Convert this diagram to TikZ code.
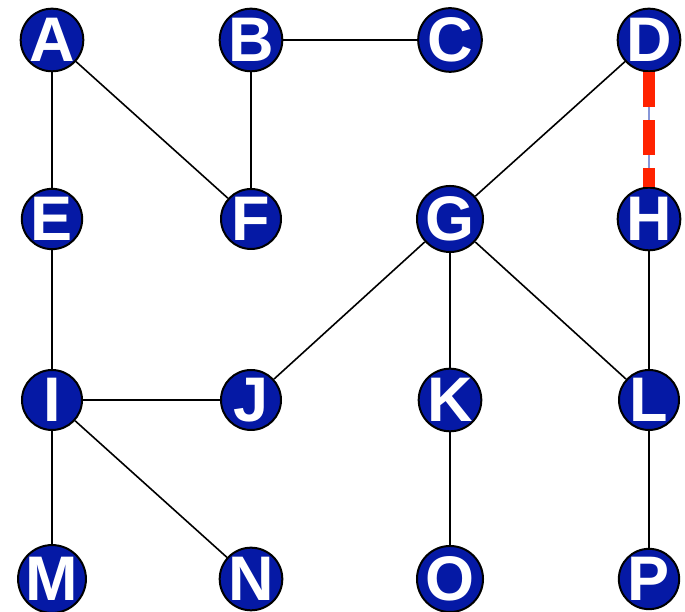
\documentclass[tikz,border=0pt]{standalone}
\usepackage{fontspec}
\setmainfont{Liberation Sans}
\usetikzlibrary{arrows}
\definecolor{nodeblue}{RGB}{5,25,165}
\definecolor{cutred}{RGB}{255,34,0}
\definecolor{linkblue}{RGB}{135,150,215}
\tikzstyle{vertex} = [circle, minimum size=60pt, inner sep=0pt, draw=black, line width=2pt, fill=nodeblue, text=white, font=\fontsize{63}{63}\selectfont\bfseries]
\tikzstyle{edge} = [line width=1.6pt, black]
\tikzstyle{under} = [line width=2pt, linkblue]
\tikzstyle{cut} = [line width=12pt, cutred, dash pattern=on 35pt off 13pt]

\begin{document}
\begin{tikzpicture}[x=1pt, y=1pt, node distance=199pt]
\useasboundingbox (0,0) rectangle (685,612);
% first row
\node (A) [vertex] at (52,572) {A};
\node (B) [vertex, right of=A] {B};
\node (C) [vertex, right of=B] {C};
\node (D) [vertex, right of=C] {D};
% second row
\node (E) [vertex] at (52,393) {E};
\node (F) [vertex, right of=E] {F};
\node (G) [vertex, right of=F] {G};
\node (H) [vertex, right of=G] {H};
% third row
\node (I) [vertex] at (52,212) {I};
\node (J) [vertex, right of=I] {J};
\node (K) [vertex, right of=J] {K};
\node (L) [vertex, right of=K] {L};
% fourth row
\node (M) [vertex] at (52,33) {M};
\node (N) [vertex, right of=M] {N};
\node (O) [vertex, right of=N] {O};
\node (P) [vertex, right of=O] {P};

\draw[edge] (A) -- (E);
\draw[edge] (A) -- (F);
\draw[edge] (B) -- (C);
\draw[edge] (B) -- (F);
\draw[edge] (D) -- (G);
\draw[edge] (G) -- (J);
\draw[edge] (G) -- (K);
\draw[edge] (G) -- (L);
\draw[edge] (H) -- (L);
\draw[edge] (E) -- (I);
\draw[edge] (I) -- (J);
\draw[edge] (I) -- (M);
\draw[edge] (I) -- (N);
\draw[edge] (K) -- (O);
\draw[edge] (L) -- (P);

\draw[under] (D) -- (H);
\draw[cut] (D.south) -- (H.north);
\end{tikzpicture}
\end{document}
